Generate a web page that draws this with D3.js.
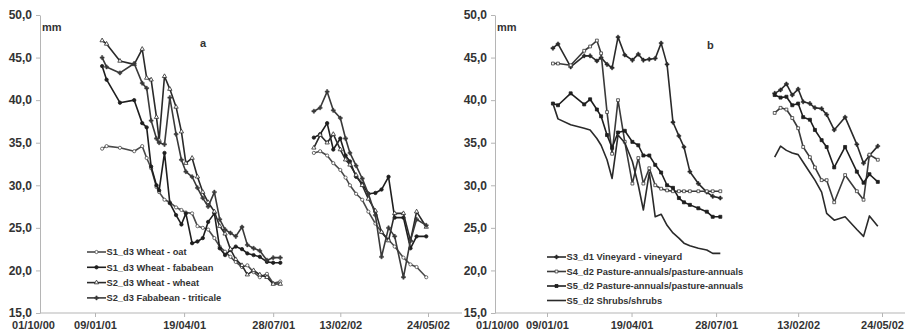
<!DOCTYPE html>
<html>
<head>
<meta charset="utf-8">
<script src="https://cdn.jsdelivr.net/npm/d3@7"></script>
<style>
  body { margin: 0; background: #fff; }
  text { font-family: Arial, "Liberation Sans", sans-serif; font-weight: bold; fill: #333; }
</style>
</head>
<body>
<div id="chart"></div>
<script>
// x values are days counted from 01/10/00
const tickDays = [0, 100, 200, 300, 500, 600];
const tickLabels = ['01/10/00', '09/01/01', '19/04/01', '28/07/01', '13/02/02', '24/05/02'];
const yTicks = [15, 20, 25, 30, 35, 40, 45, 50];

// panel a, 2001 season
const daysA1 = [108, 113, 128, 144, 153, 158, 163, 169, 172, 178, 184, 191, 197, 202, 209, 215, 221, 227, 234, 240, 246, 252, 258, 265, 271, 278, 285, 293, 300, 308];
const oatA1 = [34.3, 34.6, 34.4, 34.0, 34.6, 33.2, 32.0, 29.8, 29.2, 28.3, 28.0, 27.4, 27.1, 26.8, 26.7, 25.2, 25.0, 24.8, 23.8, 22.8, 22.2, 21.6, 21.0, 20.4, 20.6, 19.8, 19.2, 19.6, 18.5, 18.7];
const fababeanA1 = [44.0, 42.4, 39.7, 40.0, 37.3, 36.8, 32.2, 30.0, 29.4, 33.8, 27.9, 26.5, 25.4, 26.7, 23.2, 23.4, 23.8, 25.7, 26.7, 22.6, 21.8, 22.4, 22.8, 22.5, 22.0, 21.8, 21.6, 21.0, 20.9, 20.9];
const wheatA1 = [47.0, 46.6, 44.6, 44.2, 46.0, 42.6, 42.4, 38.0, 35.3, 42.8, 41.3, 39.2, 36.3, 32.6, 33.2, 31.0, 29.2, 28.0, 26.9, 25.2, 24.3, 22.5, 21.3, 20.6, 19.5, 20.0, 19.5, 19.2, 18.4, 18.4];
const triticaleA1 = [45.0, 43.9, 43.2, 44.3, 42.0, 41.4, 37.6, 35.5, 35.0, 34.8, 40.3, 36.0, 33.0, 31.6, 31.0, 29.7, 28.5, 27.5, 29.2, 26.0, 24.8, 24.4, 24.0, 25.1, 23.0, 22.6, 22.3, 21.2, 21.5, 21.5];

// panel a, 2002 season
const daysA2 = [469, 477, 485, 492, 500, 506, 511, 518, 525, 532, 540, 547, 555, 562, 572, 580, 587, 598];
const oatA2 = [33.8, 34.0, 33.5, 32.6, 31.8, 30.9, 30.0, 29.0, 28.3, 26.9, 25.5, 24.5, 23.6, 22.8, 21.5, 20.7, 20.4, 19.2];
const fababeanA2 = [35.6, 36.0, 37.3, 34.2, 35.5, 33.5, 32.8, 31.0, 30.2, 29.0, 29.1, 29.5, 31.0, 26.2, 26.2, 22.6, 24.0, 24.0];
const wheatA2 = [34.4, 35.9, 35.0, 36.0, 34.2, 33.0, 32.4, 31.2, 30.0, 28.4, 27.0, 24.5, 23.5, 26.7, 26.7, 23.5, 26.9, 25.1];
const triticaleA2 = [38.7, 39.1, 41.0, 38.8, 37.9, 35.5, 33.8, 32.3, 30.8, 29.0, 26.5, 21.6, 25.0, 24.0, 19.2, 23.5, 26.0, 25.3];

// panel b, 2001 season
const daysB1 = [107, 113, 128, 144, 151, 159, 164, 171, 177, 184, 192, 201, 208, 214, 221, 228, 235, 242, 249, 256, 262, 269, 279, 289, 296, 305];
const vineyardB1 = [46.1, 46.6, 43.9, 45.2, 45.2, 44.6, 45.0, 44.2, 43.8, 47.4, 45.3, 44.7, 45.4, 44.7, 44.8, 44.9, 46.7, 44.2, 37.4, 35.8, 34.5, 31.6, 30.2, 29.2, 28.7, 28.5];
const pastureS4B1 = [44.3, 44.3, 44.1, 45.8, 46.3, 47.0, 45.5, 38.6, 33.7, 40.0, 35.1, 30.2, 33.2, 30.2, 32.0, 30.0, 29.6, 29.4, 29.3, 29.3, 29.3, 29.3, 29.3, 29.3, 29.3, 29.3];
const pastureS5B1 = [39.6, 39.4, 40.8, 39.5, 40.1, 38.9, 38.1, 35.9, 34.4, 36.2, 36.4, 35.1, 34.7, 33.5, 33.5, 32.4, 31.5, 30.0, 29.7, 28.5, 28.0, 27.7, 27.3, 26.9, 26.3, 26.3];
const shrubsB1 = [39.6, 37.8, 37.1, 36.7, 36.5, 35.5, 34.7, 33.0, 30.8, 35.9, 35.0, 32.8, 30.0, 27.1, 31.5, 26.3, 26.6, 25.3, 24.4, 23.8, 23.2, 22.9, 22.6, 22.4, 22.0, 22.0];

// panel b, 2002 season
const daysB2 = [472, 479, 486, 493, 500, 506, 514, 520, 528, 534, 543, 556, 570, 578, 585, 595];
const vineyardB2 = [40.8, 41.2, 41.9, 40.6, 41.3, 39.8, 39.6, 39.1, 39.0, 38.3, 36.5, 38.0, 34.8, 32.6, 33.5, 34.6];
const pastureS5B2 = [40.6, 40.3, 40.4, 39.4, 39.6, 38.0, 37.7, 36.5, 35.3, 34.5, 32.1, 34.5, 31.6, 30.3, 31.3, 30.4];
const pastureS4B2 = [38.5, 39.1, 38.9, 37.9, 36.7, 34.5, 33.3, 32.1, 30.6, 30.6, 28.0, 31.2, 29.3, 28.3, 33.6, 33.0];
const shrubsB2 = [33.3, 34.6, 34.1, 33.8, 33.6, 32.7, 31.5, 30.6, 29.2, 26.7, 25.9, 26.3, 24.8, 24.0, 26.4, 25.2];

const zip = (xs, ys) => xs.map((d, i) => [d, ys[i]]);

const seriesA = [
  { name: 'S1_d3 Wheat - oat', marker: 'circleOpen', color: '#4a4a4a', parts: [zip(daysA1, oatA1), zip(daysA2, oatA2)] },
  { name: 'S1_d3 Wheat - fababean', marker: 'circleFilled', color: '#1e1e1e', parts: [zip(daysA1, fababeanA1), zip(daysA2, fababeanA2)] },
  { name: 'S2_d3 Wheat - wheat', marker: 'triangleOpen', color: '#2a2a2a', parts: [zip(daysA1, wheatA1), zip(daysA2, wheatA2)] },
  { name: 'S2_d3 Fababean - triticale', marker: 'plus', color: '#3a3a3a', parts: [zip(daysA1, triticaleA1), zip(daysA2, triticaleA2)] },
];
const seriesB = [
  { name: 'S3_d1 Vineyard - vineyard', marker: 'plus', color: '#2a2a2a', parts: [zip(daysB1, vineyardB1), zip(daysB2, vineyardB2)] },
  { name: 'S4_d2 Pasture-annuals/pasture-annuals', marker: 'squareOpen', color: '#3a3a3a', parts: [zip(daysB1, pastureS4B1), zip(daysB2, pastureS4B2)] },
  { name: 'S5_d2 Pasture-annuals/pasture-annuals', marker: 'squareFilled', color: '#1e1e1e', parts: [zip(daysB1, pastureS5B1), zip(daysB2, pastureS5B2)] },
  { name: 'S5_d2 Shrubs/shrubs', marker: 'none', color: '#2a2a2a', parts: [zip(daysB1, shrubsB1), zip(daysB2, shrubsB2)] },
];

// axis has a break between the two seasons
const xBreaks = [0, 100, 320, 470, 600];

const panels = [
  { letter: 'a', axisX: 40, xRange: [33, 95, 291, 314, 428], axisEnd: 462, letterPos: [200, 47],
    legend: { x: 87, y: 252, step: 15.3 }, series: seriesA },
  { letter: 'b', axisX: 495, xRange: [497, 547, 733, 773, 882], axisEnd: 905, letterPos: [707, 49],
    legend: { x: 547, y: 257, step: 14.5 }, series: seriesB },
];

const width = 905;
const height = 331;
const yTop = 15;
const yBottom = 313;

const svg = d3.select('#chart').append('svg')
  .attr('width', width)
  .attr('height', height);

const y = d3.scaleLinear().domain([15, 50]).range([yBottom, yTop]);

function drawMarker(g, type, cx, cy, color) {
  if (type === 'none') return;
  const sym = {
    circleOpen: [d3.symbolCircle, 8, '#fff'],
    circleFilled: [d3.symbolCircle, 9, color],
    triangleOpen: [d3.symbolTriangle, 8, '#fff'],
    plus: [d3.symbolCross, 9, color],
    squareOpen: [d3.symbolSquare, 8, '#fff'],
    squareFilled: [d3.symbolSquare, 9, color],
  }[type];
  g.append('path')
    .attr('transform', `translate(${cx},${cy})`)
    .attr('d', d3.symbol().type(sym[0]).size(sym[1])())
    .attr('fill', sym[2])
    .attr('stroke', color)
    .attr('stroke-width', type === 'plus' ? 0.5 : 0.8);
}

panels.forEach((p) => {
  const x = d3.scaleLinear().domain(xBreaks).range(p.xRange);
  const g = svg.append('g');

  // Y axis
  const yAxis = g.append('g')
    .attr('transform', `translate(${p.axisX},0)`)
    .call(d3.axisLeft(y).tickValues(yTicks).tickSize(4).tickSizeOuter(0).tickPadding(4)
      .tickFormat((d) => d3.format('.1f')(d).replace('.', ',')));
  yAxis.select('.domain').attr('stroke', '#b5b5b5');
  yAxis.selectAll('.tick line').attr('stroke', '#b5b5b5');
  yAxis.selectAll('text').attr('font-size', 12).attr('fill', '#333')
    .attr('font-family', 'Arial, "Liberation Sans", sans-serif').attr('font-weight', 'bold');

  // X axis
  const xAxis = g.append('g')
    .attr('transform', `translate(0,${yBottom})`)
    .call(d3.axisBottom(x).tickValues(tickDays).tickSize(4).tickSizeOuter(0).tickPadding(4)
      .tickFormat((d, i) => tickLabels[i]));
  xAxis.select('.domain').remove();
  xAxis.selectAll('.tick line').attr('stroke', '#b5b5b5')
    .attr('opacity', (d) => (d === 0 ? 0 : 1));
  xAxis.selectAll('text').attr('font-size', 11).attr('fill', '#333')
    .attr('font-family', 'Arial, "Liberation Sans", sans-serif').attr('font-weight', 'bold');
  g.append('line')
    .attr('x1', p.axisX).attr('x2', p.axisEnd)
    .attr('y1', yBottom).attr('y2', yBottom)
    .attr('stroke', '#b5b5b5');

  g.append('text').attr('x', p.axisX + 2).attr('y', 31).attr('font-size', 11).text('mm');
  g.append('text').attr('x', p.letterPos[0]).attr('y', p.letterPos[1]).attr('font-size', 11).text(p.letter);

  const line = d3.line().x((d) => x(d[0])).y((d) => y(d[1]));

  // series
  p.series.forEach((s) => {
    s.parts.forEach((pts) => {
      g.append('path')
        .datum(pts)
        .attr('fill', 'none')
        .attr('stroke', s.color)
        .attr('stroke-width', 1.6)
        .attr('stroke-linejoin', 'round')
        .attr('d', line);
      pts.forEach((d) => drawMarker(g, s.marker, x(d[0]), y(d[1]), s.color));
    });
  });

  // legend
  p.series.forEach((s, i) => {
    const ly = p.legend.y + i * p.legend.step;
    g.append('line')
      .attr('x1', p.legend.x).attr('x2', p.legend.x + 19)
      .attr('y1', ly).attr('y2', ly)
      .attr('stroke', s.color).attr('stroke-width', 1.6);
    drawMarker(g, s.marker, p.legend.x + 9.5, ly, s.color);
    g.append('text')
      .attr('x', p.legend.x + 19.5)
      .attr('y', ly)
      .attr('dy', '.35em')
      .attr('font-size', 9.3)
      .text(s.name);
  });
});
</script>
</body>
</html>
